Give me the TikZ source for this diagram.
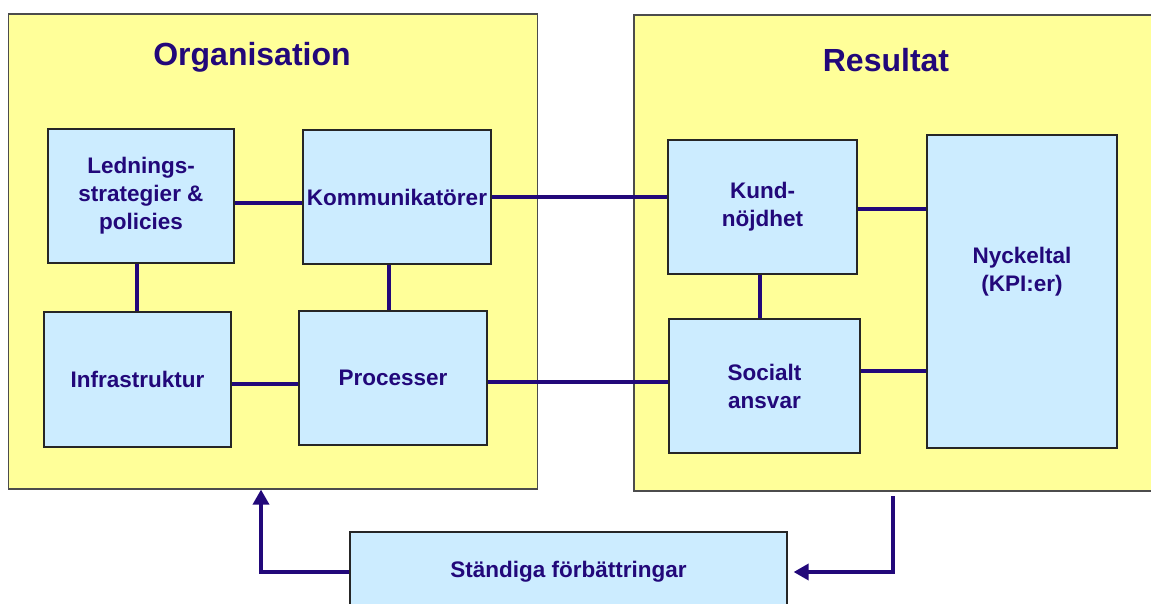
\documentclass[tikz,border=0pt]{standalone}
\usepackage{fontspec}
\setmainfont{Liberation Sans}
\usetikzlibrary{arrows.meta}
\definecolor{paleyellow}{HTML}{FFFF99}
\definecolor{paleblue}{HTML}{CCECFF}
\definecolor{inkblue}{HTML}{22087A}
\begin{document}
\begin{tikzpicture}[x=1pt,y=-1pt]
       \tikzstyle{bignode}=[draw=black!70, line width=1.2pt, fill=paleyellow]
       \tikzstyle{boxtext}=[text=inkblue, align=center, font=\bfseries\fontsize{22.5}{28}\selectfont]
       \tikzstyle{boxnode}=[boxtext, draw=black!85, line width=1.2pt, fill=paleblue, inner sep=0pt]
       \tikzstyle{titlenode}=[text=inkblue, anchor=base, font=\bfseries\fontsize{32}{36}\selectfont]
       \tikzstyle{link}=[draw=inkblue, line width=3.5pt]
       \tikzstyle{flow}=[link, -{Triangle[length=15pt,width=16pt]}]
       \useasboundingbox (0,0) rectangle (1151,604);
       \node[bignode, minimum width=529pt, minimum height=475pt] (org) at (273,251.5) {};
       \node[bignode, minimum width=531pt, minimum height=476pt] (res) at (899.5,253) {};
       \node[titlenode] (orgtitle) at (252,66) {Organisation};
       \node[titlenode] (restitle) at (886,72) {Resultat};
       \node[boxnode, minimum width=186pt, minimum height=134pt] (led) at (141,196) {Lednings-\\strategier \&\\policies};
       \node[boxnode, minimum width=188pt, minimum height=134pt] (kom) at (397,197) {Kommunikatörer};
       \node[boxnode, minimum width=187pt, minimum height=135pt] (inf) at (137.5,379.5) {Infrastruktur};
       \node[boxnode, minimum width=188pt, minimum height=134pt] (pro) at (393,378) {Processer};
       \node[boxnode, minimum width=189pt, minimum height=134pt] (kund) at (762.5,207) {Kund-\\nöjdhet};
       \node[boxnode, minimum width=191pt, minimum height=134pt] (soc) at (764.5,386) {Socialt\\ansvar};
       \node[boxnode, minimum width=190pt, minimum height=313pt,
             label={[boxtext, yshift=20pt]center:Nyckeltal\\(KPI:er)}] (nyck) at (1022,291.5) {};
       \node[boxnode, minimum width=437pt, minimum height=80pt] (stand) at (568.5,572) {Ständiga förbättringar};
       \coordinate (down) at (893,496);
       \draw[link] ([yshift=-7pt]led.east) -- ([yshift=-7pt]led.east -| kom.west);
       \draw[link] (kom.east) -- (kom.east -| kund.west);
       \draw[link] ([xshift=-4pt]led.south) -- ([xshift=-4pt]led.south |- inf.north);
       \draw[link] ([xshift=-8pt]kom.south) -- ([xshift=-8pt]kom.south |- pro.north);
       \draw[link] ([yshift=-4.5pt]inf.east) -- ([yshift=-4.5pt]inf.east -| pro.west);
       \draw[link] ([yshift=-4pt]pro.east) -- ([yshift=-4pt]pro.east -| soc.west);
       \draw[link] ([xshift=-2.5pt]kund.south) -- ([xshift=-2.5pt]kund.south |- soc.north);
       \draw[link] ([yshift=-2pt]kund.east) -- ([yshift=-2pt]kund.east -| nyck.west);
       \draw[link] ([yshift=15pt]soc.east) -- ([yshift=15pt]soc.east -| nyck.west);
       \draw[flow, shorten >=6pt] (down) |- (stand.east);
       \draw[flow] (stand.west) -| ([xshift=-12pt]org.south);
      \end{tikzpicture}
\end{document}
